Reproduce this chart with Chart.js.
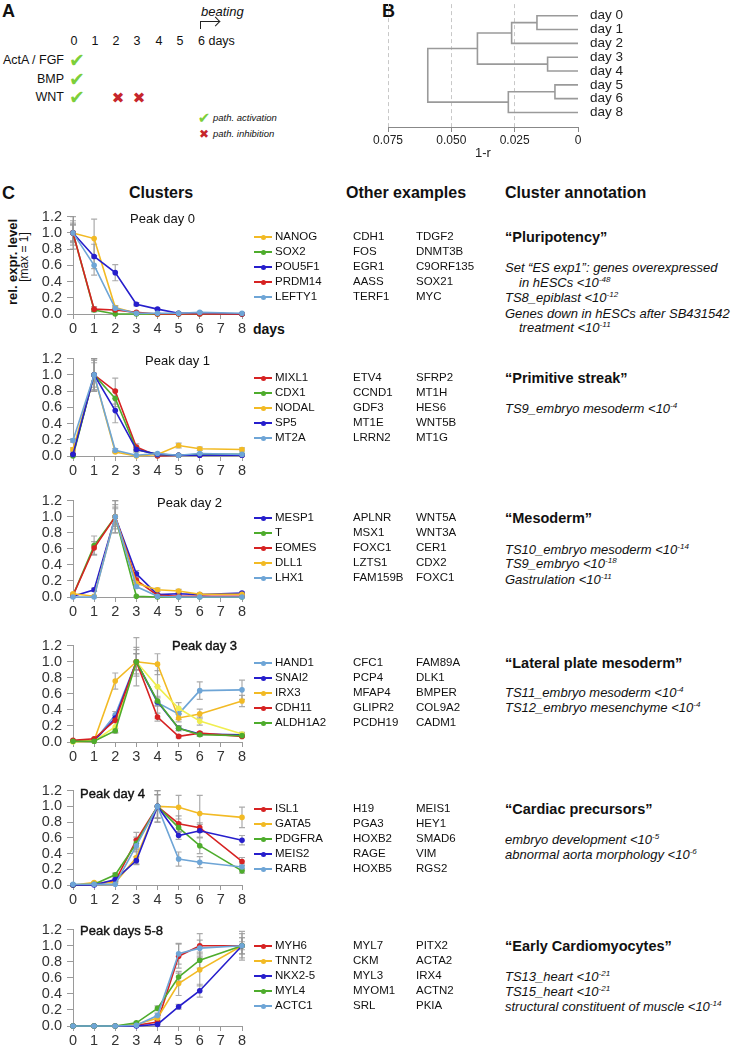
<!DOCTYPE html>
<html>
<head>
<meta charset="utf-8">
<script src="https://cdn.jsdelivr.net/npm/chart.js@4"></script>
<style>
  body { margin:0; width:734px; height:1048px; background:#fff; position:relative; overflow:hidden;
         font-family: Arial, "Liberation Sans", sans-serif; color:#111; }
  .t { position:absolute; white-space:nowrap; transform:translateY(-50%); line-height:1; }
  canvas { position:absolute; }
  sup { font-size:0.62em; vertical-align:0.5em; line-height:0; }
</style>
</head>
<body>
<script>
// ---------- data ----------
const days = [0, 1, 2, 3, 4, 5, 6, 8];
const xTicks = [0, 1, 2, 3, 4, 5, 6, 7, 8];
const yTicks = [0, 0.2, 0.4, 0.6, 0.8, 1.0, 1.2];

// panel A
const pathDays = ['0', '1', '2', '3', '4', '5', '6 days'];
const pathways = ['ActA / FGF', 'BMP', 'WNT'];

// panel B dendrogram (1-r)
const dendroLabels = ['day 0', 'day 1', 'day 2', 'day 3', 'day 4', 'day 5', 'day 6', 'day 8'];
// [child a, child b, height]; leaves are 0..7, merged nodes get 8, 9, ...
const dendroMerges = [
  [0, 1, 0.0162],
  [8, 2, 0.0262],
  [3, 4, 0.0120],
  [9, 10, 0.0397],
  [5, 6, 0.0091],
  [12, 7, 0.0275],
  [11, 13, 0.0593]
];
const dendroTicks = [0.075, 0.05, 0.025, 0];

// peak day 0
const nanog    = [1.00, 0.93, 0.08, 0.01, 0.00, 0.01, 0.01, 0.00];
const nanogSd  = [0.20, 0.24, 0.02, 0, 0, 0, 0, 0];
const sox2     = [1.00, 0.05, 0.00, 0.00, 0.00, 0.00, 0.00, 0.00];
const sox2Sd   = [0.10, 0.02, 0, 0, 0, 0, 0, 0];
const pou5f1   = [1.00, 0.71, 0.51, 0.12, 0.06, 0.01, 0.01, 0.00];
const pou5f1Sd = [0.12, 0.15, 0.10, 0.02, 0.01, 0, 0, 0];
const prdm14   = [1.00, 0.06, 0.05, 0.02, 0.00, 0.00, 0.00, 0.00];
const prdm14Sd = [0.10, 0.03, 0.02, 0.01, 0, 0, 0, 0];
const lefty1   = [1.00, 0.60, 0.07, 0.01, 0.01, 0.01, 0.02, 0.01];
const lefty1Sd = [0.15, 0.12, 0.03, 0, 0, 0, 0.01, 0];

// peak day 1
const mixl1   = [0.02, 1.00, 0.80, 0.11, 0.00, 0.01, 0.01, 0.01];
const mixl1Sd = [0.01, 0.18, 0.16, 0.04, 0, 0, 0, 0];
const cdx1    = [0.00, 1.00, 0.71, 0.08, 0.02, 0.01, 0.02, 0.02];
const cdx1Sd  = [0, 0.20, 0.10, 0.03, 0, 0, 0, 0];
const nodal   = [0.08, 1.00, 0.05, 0.00, 0.02, 0.13, 0.09, 0.08];
const nodalSd = [0.02, 0.20, 0.01, 0, 0.01, 0.03, 0.02, 0.02];
const sp5     = [0.02, 1.00, 0.56, 0.08, 0.02, 0.01, 0.01, 0.01];
const sp5Sd   = [0, 0.20, 0.15, 0.03, 0, 0, 0, 0];
const mt2a    = [0.19, 1.00, 0.07, 0.01, 0.03, 0.01, 0.03, 0.02];
const mt2aSd  = [0.02, 0.15, 0.02, 0, 0.01, 0, 0.01, 0];

// peak day 2
const mesp1   = [0.01, 0.09, 1.00, 0.29, 0.03, 0.04, 0.03, 0.05];
const mesp1Sd = [0, 0.02, 0.20, 0.04, 0.01, 0.01, 0, 0.01];
const tbxt    = [0.02, 0.64, 1.00, 0.01, 0.00, 0.00, 0.00, 0.00];
const tbxtSd  = [0, 0.12, 0.20, 0, 0, 0, 0, 0];
const eomes   = [0.02, 0.61, 1.00, 0.21, 0.02, 0.01, 0.01, 0.01];
const eomesSd = [0, 0.08, 0.15, 0.03, 0, 0, 0, 0];
const dll1    = [0.04, 0.01, 1.00, 0.17, 0.09, 0.075, 0.035, 0.035];
const dll1Sd  = [0.01, 0, 0.12, 0.03, 0.02, 0.02, 0.01, 0.01];
const lhx1    = [0.00, 0.00, 1.00, 0.13, 0.01, 0.00, 0.00, 0.00];
const lhx1Sd  = [0, 0, 0.10, 0.02, 0, 0, 0, 0];

// peak day 3
const hand1     = [0.01, 0.01, 0.34, 1.00, 0.49, 0.35, 0.64, 0.65];
const hand1Sd   = [0, 0, 0.04, 0.18, 0.20, 0.07, 0.11, 0.12];
const snai2     = [0.01, 0.01, 0.30, 1.00, 0.50, 0.17, 0.10, 0.09];
const snai2Sd   = [0, 0, 0.03, 0.10, 0.05, 0.03, 0.02, 0.02];
const irx3      = [0.01, 0.02, 0.76, 1.00, 0.97, 0.30, 0.35, 0.51];
const irx3Sd    = [0, 0, 0.10, 0.30, 0.13, 0.05, 0.06, 0.07];
const unlabeled = [0.00, 0.01, 0.19, 1.00, 0.69, 0.42, 0.26, 0.10];
const unlabeledSd = [0, 0, 0.07, 0.15, 0.20, 0.07, 0.05, 0.02];
const cdh11     = [0.02, 0.04, 0.27, 1.00, 0.31, 0.07, 0.11, 0.07];
const cdh11Sd   = [0, 0.01, 0.03, 0.10, 0.05, 0.02, 0.02, 0.01];
const aldh1a2   = [0.01, 0.01, 0.14, 1.00, 0.51, 0.17, 0.09, 0.08];
const aldh1a2Sd = [0, 0, 0.03, 0.10, 0.06, 0.03, 0.02, 0.02];

// peak day 4
const isl1     = [0.00, 0.01, 0.05, 0.57, 1.00, 0.78, 0.73, 0.30];
const isl1Sd   = [0, 0, 0.01, 0.10, 0.20, 0.10, 0.06, 0.05];
const gata5    = [0.00, 0.03, 0.03, 0.35, 1.00, 0.99, 0.91, 0.86];
const gata5Sd  = [0, 0.01, 0.01, 0.08, 0.20, 0.15, 0.23, 0.13];
const pdgfra   = [0.00, 0.01, 0.13, 0.53, 1.00, 0.73, 0.50, 0.18];
const pdgfraSd = [0, 0, 0.02, 0.08, 0.15, 0.06, 0.10, 0.03];
const meis2    = [0.00, 0.00, 0.07, 0.31, 1.00, 0.63, 0.69, 0.57];
const meis2Sd  = [0, 0, 0.02, 0.05, 0.15, 0.05, 0.08, 0.06];
const rarb     = [0.01, 0.01, 0.01, 0.50, 1.00, 0.33, 0.29, 0.23];
const rarbSd   = [0, 0, 0, 0.08, 0.15, 0.09, 0.07, 0.04];

// peak days 5-8
const myh6    = [0.00, 0.00, 0.00, 0.01, 0.05, 0.87, 1.00, 1.00];
const myh6Sd  = [0, 0, 0, 0, 0.02, 0.15, 0.15, 0.18];
const tnnt2   = [0.00, 0.00, 0.00, 0.02, 0.10, 0.53, 0.70, 1.00];
const tnnt2Sd = [0, 0, 0, 0, 0.03, 0.15, 0.20, 0.10];
const nkx25   = [0.00, 0.00, 0.00, 0.00, 0.02, 0.24, 0.44, 1.00];
const nkx25Sd = [0, 0, 0, 0, 0, 0.03, 0.08, 0.05];
const myl4    = [0.00, 0.00, 0.00, 0.04, 0.22, 0.61, 0.82, 1.00];
const myl4Sd  = [0, 0, 0, 0.01, 0.03, 0.05, 0.10, 0.10];
const actc1   = [0.00, 0.00, 0.00, 0.01, 0.13, 0.90, 0.97, 1.00];
const actc1Sd = [0, 0, 0, 0, 0.03, 0.13, 0.10, 0.15];

// other example genes
const other0 = [['CDH1', 'TDGF2'], ['FOS', 'DNMT3B'], ['EGR1', 'C9ORF135'], ['AASS', 'SOX21'], ['TERF1', 'MYC']];
const other1 = [['ETV4', 'SFRP2'], ['CCND1', 'MT1H'], ['GDF3', 'HES6'], ['MT1E', 'WNT5B'], ['LRRN2', 'MT1G']];
const other2 = [['APLNR', 'WNT5A'], ['MSX1', 'WNT3A'], ['FOXC1', 'CER1'], ['LZTS1', 'CDX2'], ['FAM159B', 'FOXC1']];
const other3 = [['CFC1', 'FAM89A'], ['PCP4', 'DLK1'], ['MFAP4', 'BMPER'], ['GLIPR2', 'COL9A2'], ['PCDH19', 'CADM1']];
const other4 = [['H19', 'MEIS1'], ['PGA3', 'HEY1'], ['HOXB2', 'SMAD6'], ['RAGE', 'VIM'], ['HOXB5', 'RGS2']];
const other5 = [['MYL7', 'PITX2'], ['CKM', 'ACTA2'], ['MYL3', 'IRX4'], ['MYOM1', 'ACTN2'], ['SRL', 'PKIA']];

// ---------- styles ----------
const RED = 'rgb(214,34,34)', GREEN = 'rgb(78,172,44)', YELLOW = 'rgb(242,186,36)';
const BLUE = 'rgb(38,30,204)', LBLUE = 'rgb(110,165,214)', LEMON = 'rgb(240,238,80)';
Chart.defaults.font.family = 'Arial, "Liberation Sans", sans-serif';

function txt(x, y, html, css, align) {
  const d = document.createElement('div');
  d.className = 't';
  d.innerHTML = html;
  d.style.left = x + 'px';
  d.style.top = y + 'px';
  if (css) d.style.cssText += ';' + css;
  if (align === 'right') d.style.transform = 'translate(-100%,-50%)';
  if (align === 'center') d.style.transform = 'translate(-50%,-50%)';
  document.body.appendChild(d);
  return d;
}
function box(css) {
  const d = document.createElement('div');
  d.style.cssText = 'position:absolute;' + css;
  document.body.appendChild(d);
}
function makeCanvas(left, top, w, h) {
  const c = document.createElement('canvas');
  c.width = w; c.height = h;
  c.style.left = left + 'px'; c.style.top = top + 'px';
  c.style.width = w + 'px'; c.style.height = h + 'px';
  document.body.appendChild(c);
  return c;
}

// ---------- panel A ----------
txt(2, 11, 'A', 'font-weight:bold;font-size:18px');
txt(201, 11, 'beating', 'font-style:italic;font-size:13px');
box('left:200px;top:21px;width:18px;height:7px;border-left:1.4px solid #222;border-top:1.4px solid #222');
box('left:212px;top:18.3px;width:6px;height:6px;border-top:1.4px solid #222;border-right:1.4px solid #222;transform:rotate(45deg)');
const dayX = [74, 95, 116, 137, 159, 180, 198];
pathDays.forEach((d, i) => txt(dayX[i], 41, d, 'font-size:12.5px', i === 6 ? null : 'center'));
const rowY = [60, 79, 97];
pathways.forEach((p, i) => {
  txt(64, rowY[i], p, 'font-size:12.5px', 'right');
  txt(77, rowY[i], '\u2714', 'font-family:"DejaVu Sans";font-size:19px;color:#7ccf3a', 'center');
});
[118, 139].forEach(x => txt(x, 98, '\u2716', 'font-family:"DejaVu Sans";font-size:15px;color:#c6262b', 'center'));
txt(204, 118, '\u2714', 'font-family:"DejaVu Sans";font-size:15px;color:#7ccf3a', 'center');
txt(213, 118, 'path. activation', 'font-style:italic;font-size:9.5px');
txt(204, 134, '\u2716', 'font-family:"DejaVu Sans";font-size:12px;color:#c6262b', 'center');
txt(213, 134, 'path. inhibition', 'font-style:italic;font-size:9.5px');

// ---------- panel B ----------
txt(382, 11, 'B', 'font-weight:bold;font-size:18px');
(function () {
  const pos = dendroLabels.map((_, i) => ({ y: i, h: 0 }));
  const segs = [];
  dendroMerges.forEach(([a, b, h]) => {
    const A = pos[a], B = pos[b];
    segs.push([{ x: A.h, y: A.y }, { x: h, y: A.y }, { x: h, y: B.y }, { x: B.h, y: B.y }]);
    pos.push({ y: (A.y + B.y) / 2, h: h });
  });
  const cv = makeCanvas(360, -8, 290, 169);
  new Chart(cv, {
    type: 'scatter',
    data: {
      datasets: segs.map(s => ({
        data: s, showLine: true, pointRadius: 0, borderColor: '#9a9a9a', borderWidth: 1.6, clip: false, tension: 0
      }))
    },
    options: {
      responsive: false, animation: false, devicePixelRatio: 1, events: [],
      layout: { padding: { top: 8, left: 28, right: 0, bottom: 0 } },
      plugins: { legend: { display: false }, tooltip: { enabled: false } },
      scales: {
        x: {
          type: 'linear', min: 0, max: 0.075, reverse: true,
          afterBuildTicks: s => { s.ticks = dendroTicks.map(v => ({ value: v })); },
          afterFit: s => { s.height = 34; },
          ticks: { font: { size: 12 }, color: '#222', padding: 1, maxRotation: 0, autoSkip: false,
                   callback: v => v === 0 ? '0' : v.toFixed(3) },
          grid: { color: c => (c.tick && c.tick.value === 0) ? 'rgba(0,0,0,0)' : '#c8c8c8',
                  tickColor: '#888', tickLength: 5 },
          border: { color: '#888', dash: [4, 3] },
          title: { display: true, text: '1-r', font: { size: 13 }, color: '#222', padding: { top: 0, bottom: 0 } }
        },
        y: {
          type: 'linear', position: 'right', min: -0.84, max: 8.05, reverse: true,
          afterBuildTicks: s => { s.ticks = dendroLabels.map((_, i) => ({ value: i })); },
          afterFit: s => { s.width = 72; },
          ticks: { font: { size: 13.5 }, color: '#222', padding: 4, autoSkip: false, callback: v => dendroLabels[v] },
          grid: { display: false }, border: { display: false }
        }
      }
    }
  });
})();

// ---------- panel C ----------
txt(2, 193, 'C', 'font-weight:bold;font-size:18px');
txt(129, 193, 'Clusters', 'font-weight:bold;font-size:16px');
txt(346, 193, 'Other examples', 'font-weight:bold;font-size:16px');
txt(505, 193, 'Cluster annotation', 'font-weight:bold;font-size:16px');
const yTitle = txt(12, 262, 'rel. expr. level', 'font-weight:bold;font-size:13px', 'center');
yTitle.style.transform = 'translate(-50%,-50%) rotate(-90deg)';
const yTitle2 = txt(24, 257, '[max = 1]', 'font-size:12px', 'center');
yTitle2.style.transform = 'translate(-50%,-50%) rotate(-90deg)';
txt(253, 329, 'days', 'font-weight:bold;font-size:14px');

const errorBars = {
  id: 'errorBars',
  beforeDatasetsDraw(chart) {
    const { ctx, scales: { x, y } } = chart;
    ctx.save();
    ctx.strokeStyle = 'rgba(150,150,150,0.8)';
    ctx.lineWidth = 1.2;
    chart.data.datasets.forEach(ds => {
      if (!ds.sd) return;
      ds.data.forEach((p, i) => {
        const e = ds.sd[i];
        if (!e) return;
        const px = x.getPixelForValue(p.x);
        const t = y.getPixelForValue(p.y + e), b = y.getPixelForValue(p.y - e);
        ctx.beginPath();
        ctx.moveTo(px, t); ctx.lineTo(px, b);
        ctx.moveTo(px - 3, t); ctx.lineTo(px + 3, t);
        ctx.moveTo(px - 3, b); ctx.lineTo(px + 3, b);
        ctx.stroke();
      });
    });
    ctx.restore();
  }
};

function clusterChart(topY, botY, series) {
  const cv = makeCanvas(0, topY - 10, 256, botY - topY + 36);
  new Chart(cv, {
    type: 'line',
    data: {
      datasets: series.map((s, i) => ({
        label: s[0],
        data: days.map((d, j) => ({ x: d, y: s[1][j] })),
        sd: s[2],
        borderColor: s[3], backgroundColor: s[3],
        borderWidth: 1.6, pointRadius: 2.8, pointBorderWidth: 0, pointHoverRadius: 2.8,
        clip: false, order: -i, tension: 0
      }))
    },
    options: {
      responsive: false, animation: false, devicePixelRatio: 1, events: [],
      layout: { padding: { top: 10, right: 14, left: 0, bottom: 0 } },
      plugins: { legend: { display: false }, tooltip: { enabled: false } },
      scales: {
        x: {
          type: 'linear', min: 0, max: 8,
          afterBuildTicks: s => { s.ticks = xTicks.map(v => ({ value: v })); },
          afterFit: s => { s.height = 26; },
          ticks: { font: { size: 14.5 }, color: '#333', padding: 1, maxRotation: 0, autoSkip: false },
          grid: { drawOnChartArea: false, tickLength: 5, color: '#9a9a9a' },
          border: { color: '#9a9a9a' }
        },
        y: {
          min: 0, max: 1.2,
          afterBuildTicks: s => { s.ticks = yTicks.map(v => ({ value: v })); },
          afterFit: s => { s.width = 73; },
          ticks: { font: { size: 14.5 }, color: '#333', padding: 5, autoSkip: false, callback: v => v.toFixed(1) },
          grid: { drawOnChartArea: false, tickLength: 6, color: '#9a9a9a' },
          border: { color: '#9a9a9a' }
        }
      }
    },
    plugins: [errorBars]
  });
}

function legendBlock(y0, series) {
  let row = 0;
  series.forEach(s => {
    if (!s[0]) return;
    const y = y0 + row * 15;
    box('left:254px;top:' + (y - 0.8) + 'px;width:18px;height:1.6px;background:' + s[3]);
    box('left:260.5px;top:' + (y - 2.5) + 'px;width:5px;height:5px;border-radius:50%;background:' + s[3]);
    txt(275, y, s[0], 'font-size:11.5px');
    row++;
  });
}
function otherBlock(y0, rows) {
  rows.forEach((r, i) => {
    txt(353, y0 + i * 15, r[0], 'font-size:11.5px');
    txt(416, y0 + i * 15, r[1], 'font-size:11.5px');
  });
}
function annotBlock(title, y0, lines) {
  txt(505, y0, title, 'font-weight:bold;font-size:14.5px');
  lines.forEach(l => txt(l[1] ? 519 : 505, l[0], l[2], 'font-style:italic;font-size:13px'));
}

const clusters = [
  { top: 213, bot: 314, title: 'Peak day 0', tx: 130, ty: 218, heavy: false, ly: 237, other: other0,
    series: [['NANOG', nanog, nanogSd, YELLOW], ['SOX2', sox2, sox2Sd, GREEN], ['POU5F1', pou5f1, pou5f1Sd, BLUE],
             ['PRDM14', prdm14, prdm14Sd, RED], ['LEFTY1', lefty1, lefty1Sd, LBLUE]],
    annot: ['\u201cPluripotency\u201d', [
      [267, 0, 'Set \u201cES exp1\u201d: genes overexpressed'],
      [282, 1, 'in hESCs &lt;10<sup>-48</sup>'],
      [297, 0, 'TS8_epiblast &lt;10<sup>-12</sup>'],
      [313, 0, 'Genes down in hESCs after SB431542'],
      [327, 1, 'treatment &lt;10<sup>-11</sup>']]] },
  { top: 355, bot: 456, title: 'Peak day 1', tx: 145, ty: 360, heavy: false, ly: 378, other: other1,
    series: [['MIXL1', mixl1, mixl1Sd, RED], ['CDX1', cdx1, cdx1Sd, GREEN], ['NODAL', nodal, nodalSd, YELLOW],
             ['SP5', sp5, sp5Sd, BLUE], ['MT2A', mt2a, mt2aSd, LBLUE]],
    annot: ['\u201cPrimitive streak\u201d', [[408, 0, 'TS9_embryo mesoderm &lt;10<sup>-4</sup>']]] },
  { top: 497, bot: 597, title: 'Peak day 2', tx: 157, ty: 502, heavy: false, ly: 518, other: other2,
    series: [['MESP1', mesp1, mesp1Sd, BLUE], ['T', tbxt, tbxtSd, GREEN], ['EOMES', eomes, eomesSd, RED],
             ['DLL1', dll1, dll1Sd, YELLOW], ['LHX1', lhx1, lhx1Sd, LBLUE]],
    annot: ['\u201cMesoderm\u201d', [
      [549, 0, 'TS10_embryo mesoderm &lt;10<sup>-14</sup>'],
      [563, 0, 'TS9_embryo &lt;10<sup>-18</sup>'],
      [579, 0, 'Gastrulation &lt;10<sup>-11</sup>']]] },
  { top: 642, bot: 742, title: 'Peak day 3', tx: 172, ty: 645, heavy: true, ly: 663, other: other3,
    series: [['HAND1', hand1, hand1Sd, LBLUE], ['SNAI2', snai2, snai2Sd, BLUE], ['IRX3', irx3, irx3Sd, YELLOW],
             ['', unlabeled, unlabeledSd, LEMON], ['CDH11', cdh11, cdh11Sd, RED], ['ALDH1A2', aldh1a2, aldh1a2Sd, GREEN]],
    annot: ['\u201cLateral plate mesoderm\u201d', [
      [692, 0, 'TS11_embryo mesoderm &lt;10<sup>-4</sup>'],
      [707, 0, 'TS12_embryo mesenchyme &lt;10<sup>-4</sup>']]] },
  { top: 787, bot: 885, title: 'Peak day 4', tx: 80, ty: 793, heavy: true, ly: 809, other: other4,
    series: [['ISL1', isl1, isl1Sd, RED], ['GATA5', gata5, gata5Sd, YELLOW], ['PDGFRA', pdgfra, pdgfraSd, GREEN],
             ['MEIS2', meis2, meis2Sd, BLUE], ['RARB', rarb, rarbSd, LBLUE]],
    annot: ['\u201cCardiac precursors\u201d', [
      [839, 0, 'embryo development &lt;10<sup>-5</sup>'],
      [854, 0, 'abnormal aorta morphology &lt;10<sup>-6</sup>']]] },
  { top: 926, bot: 1026, title: 'Peak days 5-8', tx: 80, ty: 930, heavy: true, ly: 946, other: other5,
    series: [['MYH6', myh6, myh6Sd, RED], ['TNNT2', tnnt2, tnnt2Sd, YELLOW], ['NKX2-5', nkx25, nkx25Sd, BLUE],
             ['MYL4', myl4, myl4Sd, GREEN], ['ACTC1', actc1, actc1Sd, LBLUE]],
    annot: ['\u201cEarly Cardiomyocytes\u201d', [
      [976, 0, 'TS13_heart &lt;10<sup>-21</sup>'],
      [991, 0, 'TS15_heart &lt;10<sup>-21</sup>'],
      [1006, 0, 'structural constituent of muscle &lt;10<sup>-14</sup>']]] }
];

clusters.forEach(c => {
  clusterChart(c.top, c.bot, c.series);
  txt(c.tx, c.ty, c.title, 'font-size:13px;' + (c.heavy ? '-webkit-text-stroke:0.4px #111' : ''));
  legendBlock(c.ly, c.series);
  otherBlock(c.ly, c.other);
  annotBlock(c.annot[0], c.ly, c.annot[1]);
});
</script>
</body>
</html>
